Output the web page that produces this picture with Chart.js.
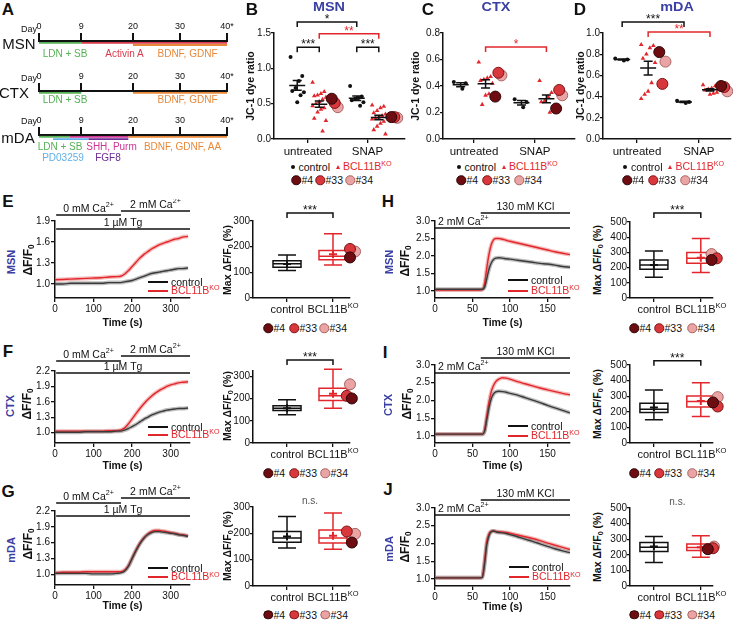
<!DOCTYPE html>
<html>
<head>
<meta charset="utf-8">
<title>BCL11B KO – mitochondrial potential and calcium</title>
<script src="https://cdn.jsdelivr.net/npm/chart.js@4.4.1/dist/chart.umd.min.js"></script>
<style>
  body { margin: 0; background: #fff; }
  #fig { position: relative; width: 733px; height: 620px; overflow: hidden; font-family: "Liberation Sans", Arial, sans-serif; color: #111; }
  #fig canvas { position: absolute; }
  .tx { position: absolute; white-space: nowrap; line-height: 1; transform: translate(-50%, -50%); }
  .tx sup { font-size: 68%; position: relative; top: -0.5em; vertical-align: baseline; }
  .tx sub { font-size: 68%; position: relative; top: 0.3em; vertical-align: baseline; }
  .mk { position: absolute; transform: translate(-50%, -50%); box-sizing: border-box; }
</style>
</head>
<body>
<div id="fig"></div>
<script>
// ---------- data ----------
// A: differentiation protocols (days)
const dayTicks = [0, 9, 20, 30, 40];
const msnFactors = ['LDN + SB', 'Activin A', 'BDNF, GDNF'];
const msnFrom = [0, 9, 20];
const msnTo = [9, 40, 40];
const ctxFactors = ['LDN + SB', 'BDNF, GDNF'];
const ctxFrom = [0, 20];
const ctxTo = [9, 40];
const mdaFactors = ['LDN + SB', 'PD03259', 'SHH, Purm', 'FGF8', 'BDNF, GDNF, AA'];
const mdaFrom = [0, 3, 6.6, 10.5, 19];
const mdaTo = [6.6, 10.5, 19, 19, 40];

// B-D: JC-1 dye ratio, [untreated, SNAP]
const jcGroups = ['untreated', 'SNAP'];
const lineNames = ['#4', '#33', '#34'];
const msnJcControl = [[1.16, 0.89, 0.82, 0.72, 0.68, 0.66, 0.62, 0.52], [0.75, 0.60, 0.58, 0.57, 0.55, 0.52, 0.47]];
const msnJcKO = [[0.80, 0.67, 0.64, 0.62, 0.61, 0.59, 0.56, 0.53, 0.50, 0.47, 0.44, 0.42, 0.38, 0.29, 0.26, 0.11],
                 [0.48, 0.46, 0.44, 0.40, 0.37, 0.35, 0.33, 0.31, 0.30, 0.28, 0.25, 0.22, 0.18, 0.13, 0.07]];
const msnJcLines = [[0.57, 0.31], [0.51, 0.31], [0.45, 0.30]];
const ctxJcControl = [[0.43, 0.42, 0.38], [0.30, 0.28, 0.24]];
const ctxJcKO = [[0.58, 0.47, 0.46, 0.45, 0.44, 0.42, 0.34, 0.33, 0.26], [0.44, 0.35, 0.32, 0.29, 0.28, 0.24, 0.20]];
const ctxJcLines = [[0.32, 0.23], [0.50, 0.37], [0.48, 0.33]];
const mdaJcControl = [[0.76, 0.75, 0.74], [0.36, 0.35, 0.34]];
const mdaJcKO = [[0.89, 0.88, 0.86, 0.80, 0.76, 0.72, 0.53, 0.45, 0.42, 0.38], [0.51, 0.50, 0.48, 0.47, 0.46, 0.44, 0.43, 0.42]];
const mdaJcLines = [[0.82, 0.50], [0.52, 0.49], [0.73, 0.45]];

// E-G: thapsigargin traces (dF/F0)
const tgTime = [0, 20, 40, 60, 80, 100, 120, 140, 160, 170, 180, 190, 200, 210, 220, 230, 240, 250, 260, 270, 280, 290, 300, 310, 320, 330, 345];
const msnTgControl = [1.00, 1.00, 1.01, 1.01, 1.01, 1.01, 1.01, 1.02, 1.02, 1.02, 1.03, 1.04, 1.05, 1.07, 1.09, 1.11, 1.13, 1.15, 1.16, 1.17, 1.18, 1.19, 1.20, 1.21, 1.22, 1.22, 1.23];
const msnTgKO = [1.06, 1.065, 1.07, 1.075, 1.08, 1.085, 1.09, 1.10, 1.105, 1.11, 1.14, 1.19, 1.25, 1.31, 1.37, 1.42, 1.46, 1.50, 1.53, 1.56, 1.58, 1.60, 1.62, 1.64, 1.65, 1.67, 1.68];
const ctxTgControl = [1.01, 1.01, 1.01, 1.01, 1.02, 1.02, 1.02, 1.02, 1.03, 1.03, 1.05, 1.08, 1.12, 1.16, 1.21, 1.26, 1.30, 1.34, 1.37, 1.40, 1.42, 1.44, 1.45, 1.46, 1.47, 1.47, 1.48];
const ctxTgKO = [1.03, 1.03, 1.03, 1.03, 1.03, 1.03, 1.03, 1.04, 1.04, 1.05, 1.09, 1.17, 1.27, 1.37, 1.47, 1.56, 1.64, 1.71, 1.77, 1.82, 1.86, 1.90, 1.93, 1.95, 1.97, 1.98, 1.99];
const mdaTgControl = [1.02, 1.02, 1.02, 1.02, 1.02, 1.01, 1.01, 1.01, 1.02, 1.03, 1.06, 1.15, 1.30, 1.45, 1.58, 1.68, 1.75, 1.79, 1.81, 1.81, 1.80, 1.79, 1.78, 1.77, 1.75, 1.74, 1.72];
const mdaTgKO = [1.03, 1.04, 1.04, 1.04, 1.05, 1.05, 1.05, 1.05, 1.05, 1.05, 1.08, 1.16, 1.31, 1.46, 1.59, 1.69, 1.76, 1.81, 1.83, 1.83, 1.82, 1.81, 1.79, 1.78, 1.76, 1.75, 1.73];
const tgTimeTicks = [0, 100, 200, 300];
const tgYTicksMsn = [1.0, 1.3, 1.6, 1.9];
const tgYTicks = [1.0, 1.3, 1.6, 1.9, 2.2];
const tgConditions = ['0 mM Ca^{2+}', '2 mM Ca^{2+}', '1 µM Tg'];
const tgCondFrom = [3, 171, 3];
const tgCondTo = [171, 350, 350];

// H-J: KCl traces (dF/F0)
const kclTime = [0, 20, 40, 60, 63, 66, 69, 72, 75, 78, 81, 85, 90, 95, 100, 110, 120, 130, 140, 150, 160, 170, 180];
const msnKclControl = [1.05, 1.05, 1.05, 1.05, 1.05, 1.10, 1.35, 1.62, 1.80, 1.90, 1.94, 1.95, 1.94, 1.92, 1.91, 1.88, 1.85, 1.82, 1.79, 1.77, 1.74, 1.70, 1.68];
const msnKclKO = [1.03, 1.03, 1.03, 1.03, 1.04, 1.20, 1.65, 2.05, 2.32, 2.46, 2.50, 2.50, 2.48, 2.45, 2.42, 2.37, 2.32, 2.27, 2.22, 2.17, 2.12, 2.08, 2.04];
const ctxKclControl = [1.05, 1.05, 1.05, 1.05, 1.05, 1.12, 1.45, 1.80, 2.05, 2.18, 2.24, 2.26, 2.25, 2.23, 2.20, 2.15, 2.08, 2.01, 1.94, 1.86, 1.79, 1.72, 1.65];
const ctxKclKO = [1.05, 1.05, 1.05, 1.05, 1.05, 1.15, 1.55, 1.95, 2.25, 2.42, 2.53, 2.60, 2.64, 2.63, 2.60, 2.53, 2.47, 2.41, 2.35, 2.30, 2.25, 2.20, 2.16];
const mdaKclControl = [1.03, 1.03, 1.03, 1.03, 1.04, 1.40, 1.95, 2.22, 2.33, 2.35, 2.33, 2.31, 2.30, 2.28, 2.25, 2.19, 2.12, 2.06, 1.99, 1.92, 1.85, 1.79, 1.74];
const mdaKclKO = [1.03, 1.03, 1.03, 1.03, 1.05, 1.50, 2.05, 2.27, 2.34, 2.35, 2.34, 2.33, 2.32, 2.31, 2.29, 2.24, 2.19, 2.14, 2.08, 2.01, 1.95, 1.89, 1.83];
const kclTimeTicks = [0, 50, 100, 150];
const kclYTicks = [1.0, 1.5, 2.0, 2.5, 3.0];
const kclConditions = ['130 mM KCl', '2 mM Ca^{2+}'];
const kclCondFrom = [61, 0];
const kclCondTo = [180, 180];

// box plots: Max dF/F0 (%), [min, q1, median, q3, max] for control / BCL11B KO
const boxGroups = ['control', 'BCL11B^{KO}'];
const tgBoxTicks = [0, 100, 200, 300];
const kclBoxTicks = [0, 100, 200, 300, 400, 500];
const msnTgBox = [[107, 120, 133, 145, 168], [129, 149, 163, 185, 250]];
const msnTgMean = [132, 170];
const msnTgLines = [158, 191, 181];
const ctxTgBox = [[127, 147, 157, 168, 195], [157, 192, 213, 247, 333]];
const ctxTgMean = [157, 222];
const ctxTgLines = [201, 213, 265];
const mdaTgBox = [[144, 166, 182, 207, 264], [140, 163, 182, 213, 277]];
const mdaTgMean = [188, 191];
const mdaTgLines = [165, 207, 198];
const msnKclBox = [[137, 189, 217, 250, 309], [167, 228, 261, 300, 391]];
const msnKclMean = [217, 265];
const msnKclLines = [250, 261, 289];
const ctxKclBox = [[149, 196, 217, 255, 340], [170, 230, 266, 302, 387]];
const ctxKclMean = [228, 270];
const ctxKclLines = [260, 234, 294];
const mdaKclBox = [[150, 221, 249, 279, 318], [185, 227, 247, 270, 322]];
const mdaKclMean = [253, 249];
const mdaKclLines = [236, 242, 253];

// ---------- styling ----------
const FONT = '"Liberation Sans", Arial, Helvetica, sans-serif';
Chart.defaults.font.family = FONT;
Chart.defaults.font.size = 10;
Chart.defaults.color = '#111';
const RED = '#e2272c';
const BLUE = '#3b40a3';
const LINE_FILL = ['#6d0d12', '#d8383c', '#eba4a4'];
const LINE_EDGE = ['#2e0507', '#7d1518', '#a86363'];
const GREEN = '#56b156', CRIMSON = '#d73a4c', ORANGE = '#e8893a', SKY = '#5fb0ea', MAGENTA = '#cc3594', PURPLE = '#6a2b92';

const fig = document.getElementById('fig');

function mount(plot, yW, xH, padT, padR, padL) {
  padL = padL || 0;
  const c = document.createElement('canvas');
  const w = Math.round(plot[2] - plot[0] + yW + padR + padL);
  const h = Math.round(plot[3] - plot[1] + padT + xH);
  c.width = w; c.height = h;
  c.style.left = (plot[0] - yW - padL) + 'px';
  c.style.top = (plot[1] - padT) + 'px';
  c.style.width = w + 'px'; c.style.height = h + 'px';
  fig.appendChild(c);
  return c;
}

function text(html, x, y, css) {
  const d = document.createElement('div');
  d.className = 'tx';
  d.innerHTML = html;
  d.style.cssText = 'left:' + x + 'px;top:' + y + 'px;' + (css || '');
  fig.appendChild(d);
}
const ROT = 'transform:translate(-50%,-50%) rotate(-90deg);';
const LEFT = 'transform:translate(0,-50%);';
const RIGHT = 'transform:translate(-100%,-50%);';

function marker(x, y, css) {
  const d = document.createElement('div');
  d.className = 'mk';
  d.style.cssText = 'left:' + x + 'px;top:' + y + 'px;' + css;
  fig.appendChild(d);
}

// canvas text with ^{sup} and _{sub}
function drawRich(ctx, str, x, y, size, color, align, bold) {
  const parts = [];
  str.replace(/\^\{([^}]*)\}|_\{([^}]*)\}|([^^_]+)/g, (m, sup, sub, plain) => {
    if (plain) parts.push([plain, 0]); else if (sup) parts.push([sup, 1]); else parts.push([sub, -1]);
  });
  const fontFor = p => (bold ? 'bold ' : '') + (p[1] ? size * 0.68 : size) + 'px ' + FONT;
  ctx.save();
  ctx.textBaseline = 'middle'; ctx.textAlign = 'left'; ctx.fillStyle = color;
  let w = 0;
  parts.forEach(p => { ctx.font = fontFor(p); w += ctx.measureText(p[0]).width; });
  let cx = align === 'left' ? x : align === 'right' ? x - w : x - w / 2;
  parts.forEach(p => {
    ctx.font = fontFor(p);
    ctx.fillText(p[0], cx, y - p[1] * size * 0.4);
    cx += ctx.measureText(p[0]).width;
  });
  ctx.restore();
}

function grid(len) {
  return { drawOnChartArea: false, drawTicks: true, tickLength: len || 4, color: '#111', lineWidth: 1.3 };
}
const BORDER = { display: true, color: '#111', width: 1.5 };
const BASE = { responsive: false, animation: false, events: [] };
const NOPLUG = { legend: { display: false }, tooltip: { enabled: false } };

// ---------- plugins ----------
function meanSemPlugin(groups) {
  return {
    id: 'meanSem',
    afterDatasetsDraw(chart) {
      const { ctx, scales: { x, y } } = chart;
      ctx.save(); ctx.strokeStyle = '#111'; ctx.lineWidth = 1.5;
      groups.forEach(g => {
        const n = g.v.length;
        const m = g.v.reduce((a, b) => a + b, 0) / n;
        const sd = Math.sqrt(g.v.reduce((a, b) => a + (b - m) * (b - m), 0) / (n - 1));
        const se = sd / Math.sqrt(n);
        const cx = x.getPixelForValue(g.x), ym = y.getPixelForValue(m);
        const yt = y.getPixelForValue(m + se), yb = y.getPixelForValue(m - se);
        ctx.beginPath();
        ctx.moveTo(cx - 8, ym); ctx.lineTo(cx + 8, ym);
        ctx.moveTo(cx, yt); ctx.lineTo(cx, yb);
        ctx.moveTo(cx - 4.5, yt); ctx.lineTo(cx + 4.5, yt);
        ctx.moveTo(cx - 4.5, yb); ctx.lineTo(cx + 4.5, yb);
        ctx.stroke();
      });
      ctx.restore();
    }
  };
}

function bracketPlugin(items) {
  return {
    id: 'brackets',
    afterDraw(chart) {
      const { ctx, scales: { x, y } } = chart;
      items.forEach(b => {
        const yy = y.getPixelForValue(b.y);
        if (b.x1 !== undefined) {
          const x1 = x.getPixelForValue(b.x1), x2 = x.getPixelForValue(b.x2);
          ctx.save(); ctx.strokeStyle = b.color; ctx.lineWidth = 1.5;
          ctx.beginPath(); ctx.moveTo(x1, yy + 5); ctx.lineTo(x1, yy); ctx.lineTo(x2, yy); ctx.lineTo(x2, yy + 5); ctx.stroke();
          ctx.restore();
          drawRich(ctx, b.text, (x1 + x2) / 2, yy - 2.5, 12, b.color, 'center');
        } else {
          drawRich(ctx, b.text, x.getPixelForValue(b.xc), yy, 10, '#555', 'center');
        }
      });
    }
  };
}

function boxPlugin(items, boxW, capW) {
  return {
    id: 'boxes',
    beforeDatasetsDraw(chart) {
      const { ctx, scales: { x, y } } = chart;
      items.forEach(b => {
        const cx = x.getPixelForValue(b.x);
        const [mn, q1, md, q3, mx] = b.stats.map(v => y.getPixelForValue(v));
        const me = y.getPixelForValue(b.mean);
        const hw = boxW / 2, cw = capW / 2;
        ctx.save(); ctx.strokeStyle = b.color; ctx.lineWidth = 1.5; ctx.beginPath();
        ctx.rect(cx - hw, q3, boxW, q1 - q3);
        ctx.moveTo(cx - hw, md); ctx.lineTo(cx + hw, md);
        ctx.moveTo(cx, q3); ctx.lineTo(cx, mx); ctx.moveTo(cx - cw, mx); ctx.lineTo(cx + cw, mx);
        ctx.moveTo(cx, q1); ctx.lineTo(cx, mn); ctx.moveTo(cx - cw, mn); ctx.lineTo(cx + cw, mn);
        ctx.stroke();
        ctx.beginPath(); ctx.lineWidth = 2;
        ctx.moveTo(cx - 4, me); ctx.lineTo(cx + 4, me); ctx.moveTo(cx, me - 4); ctx.lineTo(cx, me + 4);
        ctx.stroke(); ctx.restore();
      });
    }
  };
}

function richTickPlugin(labels, dy, size) {
  return {
    id: 'richTicks',
    afterDraw(chart) {
      const x = chart.scales.x;
      labels.forEach((t, i) => drawRich(chart.ctx, t, x.getPixelForValue(i + 1), chart.chartArea.bottom + dy, size, '#111', 'center'));
    }
  };
}

function conditionPlugin(bars) {
  return {
    id: 'conditions',
    afterDraw(chart) {
      const { ctx, chartArea, scales: { x } } = chart;
      bars.forEach(b => {
        const x1 = x.getPixelForValue(b.from), x2 = x.getPixelForValue(b.to), yy = chartArea.top + b.dy;
        ctx.save(); ctx.strokeStyle = '#111'; ctx.lineWidth = 1.5;
        ctx.beginPath(); ctx.moveTo(x1, yy); ctx.lineTo(x2, yy); ctx.stroke(); ctx.restore();
        if (b.left) drawRich(ctx, b.text, x1 + 3, yy - 5.5, 10.5, '#111', 'left');
        else drawRich(ctx, b.text, (x1 + x2) / 2, yy - 5.5, 10.5, '#111', 'center');
      });
    }
  };
}

// ---------- chart builders ----------
function timeline(axisY, from, to, colors, layers) {
  const cv = mount([39, axisY, 227, axisY + 8], 0, 0, 18, 10, 8);
  new Chart(cv, {
    type: 'line',
    data: {
      datasets: from.map((f, i) => ({
        data: [{ x: f, y: layers[i] }, { x: to[i], y: layers[i] }],
        borderColor: colors[i], borderWidth: 1.8, pointRadius: 0, borderCapStyle: 'butt'
      }))
    },
    options: Object.assign({}, BASE, {
      layout: { autoPadding: false, padding: { top: 0, right: 10, left: 8, bottom: 0 } },
      plugins: NOPLUG,
      scales: {
        x: {
          type: 'linear', position: 'top', min: 0, max: 40,
          afterBuildTicks: s => { s.ticks = dayTicks.map(v => ({ value: v })); },
          afterFit: s => { s.height = 18; },
          ticks: { callback: v => (v === 40 ? '40*' : String(v)), font: { size: 9 }, padding: 1, maxRotation: 0, autoSkip: false },
          grid: { drawOnChartArea: false, tickLength: 8, color: '#111', lineWidth: 2 },
          border: { color: '#111', width: 2 }
        },
        y: { display: false, min: 0, max: 4, reverse: true }
      }
    })
  });
}

function jit(i) { return (((i * 7) % 9) - 4) * 0.028; }

function jcChart(o) {
  const cv = mount(o.plot, o.yW, 20, 33, 2, 0);
  const pts = (groups, dx) => groups.flatMap((vals, g) => vals.map((v, i) => ({ x: g + 1 + dx + jit(i), y: v })));
  const ds = o.lines.map((vals, k) => ({
    data: vals.map((v, g) => ({ x: g + 1 + o.off[2] + (k - 1) * 0.05, y: v })),
    pointRadius: 5.5, pointBackgroundColor: LINE_FILL[k], pointBorderColor: LINE_EDGE[k], pointBorderWidth: 1, clip: false
  }));
  ds.push({ data: pts(o.ko, o.off[1]), pointStyle: 'triangle', pointRadius: 2.7, pointBackgroundColor: RED, pointBorderColor: RED, pointBorderWidth: 0, clip: false });
  ds.push({ data: pts(o.ctrl, o.off[0]), pointRadius: 2, pointBackgroundColor: '#111', pointBorderColor: '#111', pointBorderWidth: 0, clip: false });
  const groups = [];
  [0, 1].forEach(g => {
    groups.push({ x: g + 1 + o.off[0], v: o.ctrl[g] });
    groups.push({ x: g + 1 + o.off[1], v: o.ko[g] });
  });
  const brackets = o.brackets.map(b => ({
    x1: b.from[0] + o.off[b.from[1]], x2: b.to[0] + o.off[b.to[1]], y: b.y, text: b.text, color: b.color
  }));
  new Chart(cv, {
    type: 'scatter',
    data: { datasets: ds },
    options: Object.assign({}, BASE, {
      layout: { autoPadding: false, padding: { top: 33, right: 2, left: 0, bottom: 0 } },
      plugins: NOPLUG,
      scales: {
        x: {
          type: 'linear', min: o.xMin, max: o.xMax,
          afterBuildTicks: s => { s.ticks = [{ value: 1 }, { value: 2 }]; },
          afterFit: s => { s.height = 20; },
          ticks: { callback: v => jcGroups[v - 1], font: { size: 11.5 }, padding: 2, maxRotation: 0, autoSkip: false },
          grid: grid(4), border: BORDER
        },
        y: {
          min: 0, max: o.yMax,
          afterFit: s => { s.width = o.yW; },
          ticks: { stepSize: o.step, callback: v => v.toFixed(1), padding: 0 },
          title: { display: true, text: 'JC-1 dye ratio', font: { size: 10.5, weight: 'bold' }, padding: 0 },
          grid: grid(3), border: BORDER
        }
      }
    }),
    plugins: [meanSemPlugin(groups), bracketPlugin(brackets)]
  });
}

function traceChart(o) {
  const cv = mount(o.plot, 25, o.xH, o.padT, 4, 0);
  const xy = vals => o.time.map((t, i) => ({ x: t, y: vals[i] }));
  const line = (vals, color, w) => ({ data: xy(vals), borderColor: color, borderWidth: w, pointRadius: 0, cubicInterpolationMode: 'monotone', fill: false });
  new Chart(cv, {
    type: 'line',
    data: {
      datasets: [
        line(o.ctrl, '#3a3a3a', 1.4),
        line(o.ko, RED, 1.4),
        line(o.ctrl, 'rgba(110,110,110,0.45)', 4),
        line(o.ko, 'rgba(235,120,120,0.5)', 4)
      ]
    },
    options: Object.assign({}, BASE, {
      layout: { autoPadding: false, padding: { top: o.padT, right: 4, left: 0, bottom: 0 } },
      plugins: NOPLUG,
      scales: {
        x: {
          type: 'linear', min: 0, max: o.xMax,
          afterBuildTicks: s => { s.ticks = o.xTicks.map(v => ({ value: v })); },
          afterFit: s => { s.height = o.xH; },
          ticks: { padding: 1, maxRotation: 0, autoSkip: false },
          title: { display: true, text: 'Time (s)', font: { size: 10.5, weight: 'bold' }, padding: 0 },
          grid: grid(4), border: BORDER
        },
        y: {
          min: o.yMin, max: o.yMax,
          afterBuildTicks: s => { s.ticks = o.yTicks.map(v => ({ value: v })); },
          afterFit: s => { s.width = 25; },
          ticks: { callback: v => v.toFixed(1), padding: 1, autoSkip: false },
          grid: grid(4), border: BORDER
        }
      }
    }),
    plugins: [conditionPlugin(o.bars)]
  });
}

function boxChart(o) {
  const cv = mount(o.plot, 24, 20, 20, 14, 0);
  const ds = o.lines.map((v, k) => ({
    data: [{ x: 2 + o.dx[k], y: v }],
    pointRadius: 5.5, pointBackgroundColor: LINE_FILL[k], pointBorderColor: LINE_EDGE[k], pointBorderWidth: 1, clip: false
  }));
  const items = [
    { x: 1, stats: o.box[0], mean: o.mean[0], color: '#111' },
    { x: 2, stats: o.box[1], mean: o.mean[1], color: RED }
  ];
  const stat = o.sig === 'n.s.' ? { xc: 1.5, y: o.sigY, text: 'n.s.' } : { x1: 1, x2: 2, y: o.sigY, text: o.sig, color: '#111' };
  new Chart(cv, {
    type: 'scatter',
    data: { datasets: ds },
    options: Object.assign({}, BASE, {
      layout: { autoPadding: false, padding: { top: 20, right: 14, left: 0, bottom: 0 } },
      plugins: NOPLUG,
      scales: {
        x: {
          type: 'linear', min: o.xMin, max: o.xMax,
          afterBuildTicks: s => { s.ticks = [{ value: 1 }, { value: 2 }]; },
          afterFit: s => { s.height = 20; },
          ticks: { callback: () => '', autoSkip: false },
          grid: grid(4), border: BORDER
        },
        y: {
          min: 0, max: o.yMax,
          afterBuildTicks: s => { s.ticks = o.yTicks.map(v => ({ value: v })); },
          afterFit: s => { s.width = 24; },
          ticks: { padding: 0, autoSkip: false },
          grid: grid(3), border: BORDER
        }
      }
    }),
    plugins: [boxPlugin(items, 28, 18), richTickPlugin(boxGroups, 12, 11), bracketPlugin([stat])]
  });
}

function bars(from, to, labels, dys, leftIdx) {
  return from.map((f, i) => ({ from: f, to: to[i], text: labels[i], dy: dys[i], left: i === leftIdx }));
}

// ---------- panel A ----------
timeline(41, msnFrom, msnTo, [GREEN, CRIMSON, ORANGE], [0.9, 0.9, 2.0]);
timeline(91, ctxFrom, ctxTo, [GREEN, ORANGE], [0.9, 0.9]);
timeline(135, mdaFrom, mdaTo, [GREEN, SKY, MAGENTA, PURPLE, ORANGE], [0.9, 2.1, 0.9, 2.1, 0.9]);

// ---------- panels B-D ----------
jcChart({ plot: [274, 33, 405, 139], yW: 29, xMin: 0.43, xMax: 2.63, yMax: 1.5, step: 0.5,
  ctrl: msnJcControl, ko: msnJcKO, lines: msnJcLines, off: [-0.18, 0.19, 0.45],
  brackets: [
    { from: [1, 0], to: [2, 0], y: 1.655, text: '*', color: '#111' },
    { from: [1, 1], to: [2, 1], y: 1.49, text: '**', color: RED },
    { from: [1, 0], to: [1, 1], y: 1.30, text: '***', color: '#111' },
    { from: [2, 0], to: [2, 1], y: 1.30, text: '***', color: '#111' }
  ] });
jcChart({ plot: [443, 33, 575, 139], yW: 33, xMin: 0.49, xMax: 2.66, yMax: 0.8, step: 0.2,
  ctrl: ctxJcControl, ko: ctxJcKO, lines: ctxJcLines, off: [-0.22, 0.19, 0.40],
  brackets: [{ from: [1, 1], to: [2, 1], y: 0.694, text: '*', color: RED }] });
jcChart({ plot: [603, 33, 731, 139], yW: 28, xMin: 0.45, xMax: 2.52, yMax: 1.0, step: 0.2,
  ctrl: mdaJcControl, ko: mdaJcKO, lines: mdaJcLines, off: [-0.24, 0.18, 0.41],
  brackets: [
    { from: [1, 0], to: [2, 0], y: 1.104, text: '***', color: '#111' },
    { from: [1, 1], to: [2, 1], y: 1.009, text: '**', color: RED }
  ] });

// ---------- panels E-J traces ----------
traceChart({ plot: [55, 221, 190, 298], time: tgTime, ctrl: msnTgControl, ko: msnTgKO, xMax: 350, xTicks: tgTimeTicks,
  yMin: 0.8, yMax: 1.9, yTicks: tgYTicksMsn, xH: 31, padT: 22, bars: bars(tgCondFrom, tgCondTo, tgConditions, [-6, -10, 8], -1) });
traceChart({ plot: [55, 371, 190, 443], time: tgTime, ctrl: ctxTgControl, ko: ctxTgKO, xMax: 350, xTicks: tgTimeTicks,
  yMin: 0.8, yMax: 2.2, yTicks: tgYTicks, xH: 29, padT: 28, bars: bars(tgCondFrom, tgCondTo, tgConditions, [-10, -15, 2], -1) });
traceChart({ plot: [55, 511, 190, 585], time: tgTime, ctrl: mdaTgControl, ko: mdaTgKO, xMax: 350, xTicks: tgTimeTicks,
  yMin: 0.8, yMax: 2.2, yTicks: tgYTicks, xH: 27, padT: 26, bars: bars(tgCondFrom, tgCondTo, tgConditions, [-8, -13, 5], -1) });
traceChart({ plot: [435, 221, 570, 298], time: kclTime, ctrl: msnKclControl, ko: msnKclKO, xMax: 180, xTicks: kclTimeTicks,
  yMin: 0.8, yMax: 3.0, yTicks: kclYTicks, xH: 31, padT: 22, bars: bars(kclCondFrom, kclCondTo, kclConditions, [-8, 7], 1) });
traceChart({ plot: [435, 365, 570, 443], time: kclTime, ctrl: ctxKclControl, ko: ctxKclKO, xMax: 180, xTicks: kclTimeTicks,
  yMin: 0.8, yMax: 3.0, yTicks: kclYTicks, xH: 29, padT: 22, bars: bars(kclCondFrom, kclCondTo, kclConditions, [-7, 8], 1) });
traceChart({ plot: [435, 508, 570, 586], time: kclTime, ctrl: mdaKclControl, ko: mdaKclKO, xMax: 180, xTicks: kclTimeTicks,
  yMin: 0.8, yMax: 3.0, yTicks: kclYTicks, xH: 27, padT: 22, bars: bars(kclCondFrom, kclCondTo, kclConditions, [-8, 7], 1) });

// ---------- panels E-J box plots ----------
boxChart({ plot: [253, 221, 350, 298], xMin: 0.26, xMax: 2.37, yMax: 300, yTicks: tgBoxTicks,
  box: msnTgBox, mean: msnTgMean, lines: msnTgLines, dx: [0.37, 0.37, 0.48], sig: '***', sigY: 331 });
boxChart({ plot: [253, 371, 350, 443], xMin: 0.26, xMax: 2.37, yMax: 325, yTicks: tgBoxTicks,
  box: ctxTgBox, mean: ctxTgMean, lines: ctxTgLines, dx: [0.41, 0.30, 0.37], sig: '***', sigY: 375 });
boxChart({ plot: [253, 507, 350, 586], xMin: 0.26, xMax: 2.37, yMax: 300, yTicks: tgBoxTicks,
  box: mdaTgBox, mean: mdaTgMean, lines: mdaTgLines, dx: [0.41, 0.30, 0.48], sig: 'n.s.', sigY: 321 });
boxChart({ plot: [630, 222, 713, 298], xMin: 0.49, xMax: 2.26, yMax: 500, yTicks: kclBoxTicks,
  box: msnKclBox, mean: msnKclMean, lines: msnKclLines, dx: [0.23, 0.34, 0.23], sig: '***', sigY: 559 });
boxChart({ plot: [630, 365, 713, 443], xMin: 0.49, xMax: 2.26, yMax: 500, yTicks: kclBoxTicks,
  box: ctxKclBox, mean: ctxKclMean, lines: ctxKclLines, dx: [0.26, 0.36, 0.36], sig: '***', sigY: 527 });
boxChart({ plot: [630, 508, 713, 586], xMin: 0.49, xMax: 2.26, yMax: 500, yTicks: kclBoxTicks,
  box: mdaKclBox, mean: mdaKclMean, lines: mdaKclLines, dx: [0.15, 0.26, 0.28], sig: 'n.s.', sigY: 534 });

// ---------- text ----------
const LETTER = 'font-weight:bold;font-size:17px;';
[['A', 8, 9], ['B', 252, 9], ['C', 428, 9], ['D', 580, 9], ['E', 8, 201], ['H', 388, 201],
 ['F', 8, 351], ['I', 385, 352], ['G', 8, 491], ['J', 388, 489]].forEach(l => text(l[0], l[1], l[2], LETTER));

const TITLE = 'font-weight:bold;font-size:12px;color:' + BLUE + ';transform:translate(-50%,-50%) scaleX(1.2);';
text('MSN', 329, 7, TITLE);
text('CTX', 496, 7, TITLE);
text('mDA', 677, 7, TITLE);

// panel A labels
text('MSN', 19, 43, 'font-size:15px;');
text('CTX', 14, 92, 'font-size:15px;');
text('mDA', 18, 137, 'font-size:15px;');
[28.5, 78, 121].forEach(y => text('Day', 37, y, 'font-size:9px;' + RIGHT));
const FA = 'font-size:10px;color:';
text(msnFactors[0], 65, 53.5, FA + GREEN);
text(msnFactors[1], 124.5, 53.5, FA + CRIMSON);
text(msnFactors[2], 187.5, 53.5, FA + ORANGE);
text(ctxFactors[0], 65, 100, FA + GREEN);
text(ctxFactors[1], 187.5, 100, FA + ORANGE);
text(mdaFactors[0], 60, 146.5, FA + GREEN);
text(mdaFactors[2], 111.5, 146.5, FA + MAGENTA);
text(mdaFactors[4], 182.5, 146.5, FA + ORANGE);
text(mdaFactors[1], 63, 158, FA + SKY);
text(mdaFactors[3], 108, 158, FA + PURPLE);

// legends for B-D
function jcLegend(x0, y) {
  marker(x0, y, 'width:4px;height:4px;border-radius:50%;background:#111;');
  text('control', x0 + 6, y, 'font-size:10.5px;' + LEFT);
  marker(x0 + 45, y - 0.5, 'width:0;height:0;border-left:2.6px solid transparent;border-right:2.6px solid transparent;border-bottom:4.6px solid ' + RED + ';');
  text('BCL11B<sup>KO</sup>', x0 + 50.5, y, 'font-size:10.5px;color:' + RED + ';' + LEFT);
}
function lineLegend(xs, y) {
  xs.forEach((cx, k) => {
    marker(cx, y, 'width:9.5px;height:9.5px;border-radius:50%;background:' + LINE_FILL[k] + ';border:1px solid ' + LINE_EDGE[k] + ';');
    text(lineNames[k], cx + 5.5, y, 'font-size:10.5px;' + LEFT);
  });
}
jcLegend(292.5, 167); jcLegend(458.5, 167); jcLegend(625, 167);
lineLegend([296, 320, 350], 180); lineLegend([461, 487, 519], 180); lineLegend([627, 653, 685], 180);

// legends for traces
function traceLegend(x, y1, y2) {
  marker(x + 10, y1, 'width:20px;height:2px;background:#111;');
  text('control', x + 23, y1, 'font-size:10.5px;' + LEFT);
  marker(x + 10, y2, 'width:20px;height:2px;background:' + RED + ';');
  text('BCL11B<sup>KO</sup>', x + 23, y2, 'font-size:10.5px;color:' + RED + ';' + LEFT);
}
traceLegend(148, 282, 290.5); traceLegend(508, 280, 290.7);
traceLegend(148, 427.3, 435); traceLegend(508, 426, 435.7);
traceLegend(148, 568.3, 577.3); traceLegend(509, 567.3, 577.3);

lineLegend([268, 294, 324], 328); lineLegend([634, 659, 692], 328);
lineLegend([268, 294, 325], 473); lineLegend([634, 659, 692], 473);
lineLegend([268, 294, 325], 614.5); lineLegend([634, 659, 692], 614.5);

// row labels and axis titles
const SIDE = 'font-weight:bold;font-size:11px;color:' + BLUE + ';' + ROT;
text('MSN', 11, 262, SIDE); text('CTX', 10, 406, SIDE); text('mDA', 11, 550, SIDE);
text('MSN', 389, 262, SIDE); text('CTX', 388, 405, SIDE); text('mDA', 389, 549, SIDE);
const DF = 'font-weight:bold;font-size:12px;' + ROT;
text('ΔF/F<sub>0</sub>', 27.5, 260, DF); text('ΔF/F<sub>0</sub>', 27, 404, DF); text('ΔF/F<sub>0</sub>', 28, 544, DF);
text('ΔF/F<sub>0</sub>', 405, 261, DF); text('ΔF/F<sub>0</sub>', 407, 404, DF); text('ΔF/F<sub>0</sub>', 405, 547, DF);
const MX = 'font-weight:bold;font-size:10.5px;' + ROT;
const maxTitle = 'Max ΔF/F<sub>0</sub> (%)';
text(maxTitle, 228, 260, MX); text(maxTitle, 228, 406, MX); text(maxTitle, 228, 546, MX);
text(maxTitle, 598, 260, MX); text(maxTitle, 598, 404, MX); text(maxTitle, 598, 547, MX);
</script>
</body>
</html>
